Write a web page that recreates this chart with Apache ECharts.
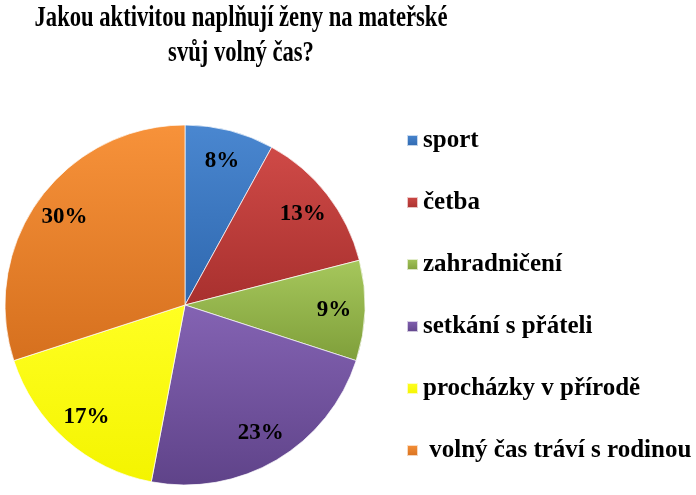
<html>
<head>
    <meta charset="utf-8">
    <title>Chart</title>
    <script src="https://cdn.jsdelivr.net/npm/echarts@6/dist/echarts.min.js"></script>
    <style>
        html, body { margin: 0; padding: 0; width: 696px; height: 495px; background: #fff; }
        #main { width: 696px; height: 495px; }
    </style>
</head>
<body>
    <div id="main"></div>
    <script type="text/javascript">
        // data
        var titleText = 'Jakou aktivitou naplňují ženy na mateřské\nsvůj volný čas?';
        var categories = ['sport', 'četba', 'zahradničení', 'setkání s přáteli', 'procházky v přírodě', ' volný čas tráví s rodinou'];
        var values = [8, 13, 9, 23, 17, 30];
        var colors = [
            ['#4a87d0', '#2e67ae'],
            ['#cf4a47', '#a8302e'],
            ['#a6c75c', '#7f9f3a'],
            ['#8463b3', '#5f4389'],
            ['#ffff22', '#f4f400'],
            ['#f7923a', '#d6701e']
        ];
        var font = '"Liberation Serif", "Times New Roman", serif';

        var myChart = echarts.init(document.getElementById('main'));

        // slight vertical shading like the office bevel
        function grad(i) {
            return new echarts.graphic.LinearGradient(0, 0, 0, 1, [
                { offset: 0, color: colors[i][0] },
                { offset: 1, color: colors[i][1] }
            ]);
        }

        var pieData = categories.map(function (name, i) {
            return { name: name, value: values[i], itemStyle: { color: grad(i) } };
        });
        var labelData = categories.map(function (name, i) {
            return { name: name, value: values[i] };
        });

        var option = {
            animation: false,
            graphic: [{
                type: 'text',
                x: 241,
                y: 1,
                scaleX: 0.78,
                style: {
                    text: titleText,
                    font: 'bold 29px ' + font,
                    fill: '#000',
                    textAlign: 'center',
                    lineHeight: 35
                }
            }],
            legend: {
                orient: 'vertical',
                left: 401,
                top: 123,
                icon: 'rect',
                itemWidth: 11,
                itemHeight: 11,
                itemGap: 37,
                selectedMode: false,
                data: categories,
                textStyle: {
                    fontFamily: font,
                    fontWeight: 'bold',
                    fontSize: 25,
                    color: '#000',
                    lineHeight: 25
                }
            },
            color: colors.map(function (c) { return c[1]; }),
            series: [
                {
                    name: 'pie',
                    type: 'pie',
                    center: [185, 305],
                    radius: 180,
                    startAngle: 90,
                    clockwise: true,
                    label: { show: false },
                    labelLine: { show: false },
                    itemStyle: { borderColor: 'rgba(255,255,255,0.7)', borderWidth: 1 },
                    emphasis: { disabled: true },
                    data: pieData
                },
                {
                    // transparent ring, only carries the percentage labels
                    name: 'labels',
                    type: 'pie',
                    center: [185, 305],
                    radius: [110, 182],
                    startAngle: 90,
                    clockwise: true,
                    silent: true,
                    legendHoverLink: false,
                    itemStyle: { color: 'rgba(0,0,0,0)' },
                    label: {
                        show: true,
                        position: 'inside',
                        formatter: '{d}%',
                        fontFamily: font,
                        fontWeight: 'bold',
                        fontSize: 23,
                        color: '#000'
                    },
                    labelLine: { show: false },
                    emphasis: { disabled: true },
                    data: labelData
                }
            ]
        };
        myChart.setOption(option);
    </script>
</body>
</html>
